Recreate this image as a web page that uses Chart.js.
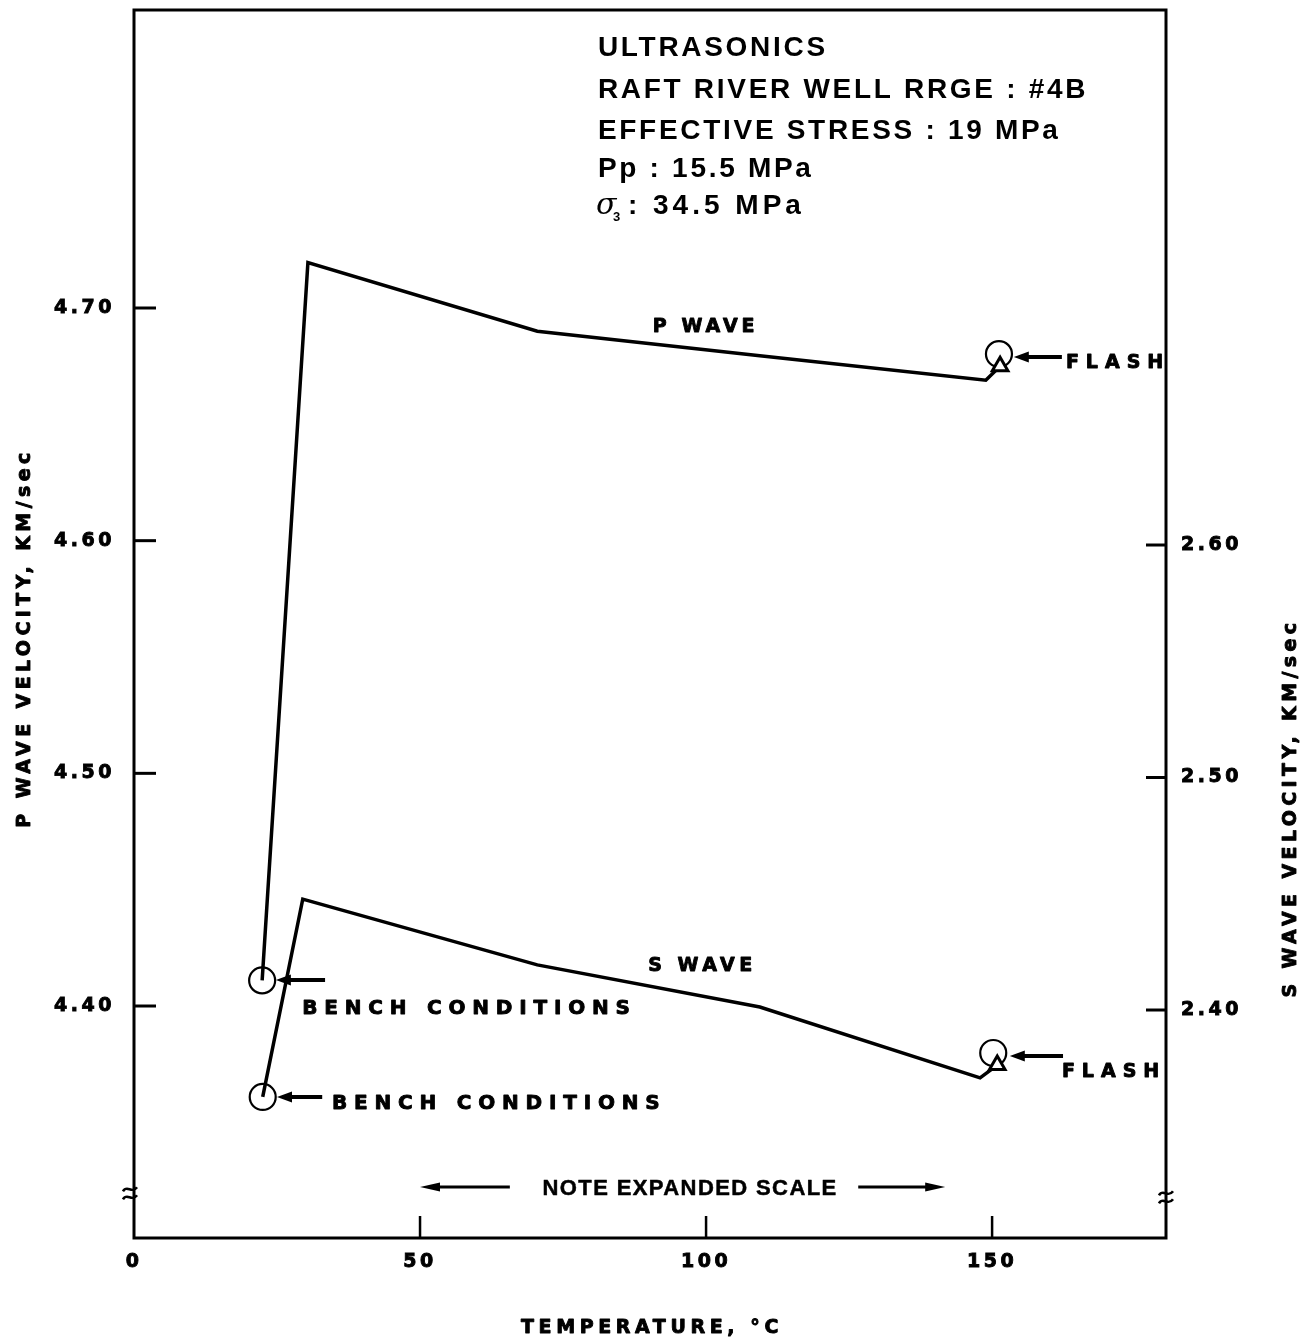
<!DOCTYPE html>
<html>
<head>
<meta charset="utf-8">
<script src="https://cdn.jsdelivr.net/npm/chart.js@4.4.1/dist/chart.umd.min.js"></script>
<style>
  html, body { margin: 0; padding: 0; background: #fff; }
  #wrap { width: 1304px; height: 1339px; }
</style>
</head>
<body>
<div id="wrap"><canvas id="c" width="1304" height="1339"></canvas></div>
<script>
// P wave velocity (km/s) against temperature (°C)
const pTemps    = [22.4, 30.4, 70.5, 109.4, 148.9, 151.4];
const pVelocity = [4.411, 4.7195, 4.690, 4.6795, 4.669, 4.675];

// S wave velocity (km/s) against temperature (°C)
const sTemps    = [22.5, 29.5, 70.5, 109.4, 147.9, 150.9];
const sVelocity = [2.3626, 2.4477, 2.4194, 2.4013, 2.3708, 2.3763];

// Circled readings: bench conditions and flash, P wave (left scale)
const pCircleTemps    = [22.4, 151.2];
const pCircleVelocity = [4.411, 4.6802];
// Circled readings: bench conditions and flash, S wave (right scale)
const sCircleTemps    = [22.5, 150.2];
const sCircleVelocity = [2.3626, 2.3815];

// Tick labels
const tempTicks = [0, 50, 100, 150];
const pTicks = [4.40, 4.50, 4.60, 4.70];
const sTicks = [2.40, 2.50, 2.60];

const infoLines = ['ULTRASONICS', 'RAFT RIVER WELL RRGE : #4B', 'EFFECTIVE STRESS : 19 MPa', 'Pp : 15.5 MPa'];

const toPoints = (xs, ys) => xs.map((t, i) => ({ x: t, y: ys[i] }));

function arrow(ctx, tailX, tailY, tipX, tipY, shaft, headLen, headHalf) {
  const ang = Math.atan2(tipY - tailY, tipX - tailX);
  const bx = tipX - Math.cos(ang) * headLen;
  const by = tipY - Math.sin(ang) * headLen;
  ctx.lineWidth = shaft;
  ctx.beginPath(); ctx.moveTo(tailX, tailY); ctx.lineTo(bx + Math.cos(ang) * 2, by + Math.sin(ang) * 2); ctx.stroke();
  ctx.beginPath();
  ctx.moveTo(tipX, tipY);
  ctx.lineTo(bx - Math.sin(ang) * headHalf, by + Math.cos(ang) * headHalf);
  ctx.lineTo(bx + Math.sin(ang) * headHalf, by - Math.cos(ang) * headHalf);
  ctx.closePath(); ctx.fill();
}

// filled text with letter spacing; an optional outline thickens heavy labels
function spaced(ctx, text, x, y, font, spacing, align, heavy) {
  ctx.font = font;
  ctx.letterSpacing = spacing + 'px';
  ctx.textAlign = align || 'left';
  ctx.textBaseline = 'alphabetic';
  ctx.fillText(text, x, y);
  if (heavy) {
    ctx.lineWidth = heavy;
    ctx.lineJoin = 'round';
    ctx.strokeText(text, x, y);
  }
}

function breakMark(ctx, x, y) {
  ctx.lineWidth = 2.6;
  for (const dy of [-4, 4]) {
    ctx.beginPath();
    ctx.moveTo(x - 7, y + dy + 2);
    ctx.bezierCurveTo(x - 3, y + dy - 5, x + 2, y + dy + 5, x + 7, y + dy - 2);
    ctx.stroke();
  }
}

const decor = {
  id: 'decor',
  beforeDraw(chart) {
    chart.ctx.letterSpacing = '3.5px';
  },
  beforeDatasetsDraw(chart) {
    const { ctx, chartArea: a, scales: { x, y, y2 } } = chart;
    ctx.save();
    ctx.strokeStyle = '#000';
    ctx.fillStyle = '#000';
    ctx.lineCap = 'square';
    // frame
    ctx.lineWidth = 3;
    ctx.strokeRect(a.left, a.top, a.right - a.left, a.bottom - a.top);
    // inward tick marks
    ctx.lineCap = 'butt';
    ctx.lineWidth = 2.5;
    tempTicks.filter(t => t > 0).forEach(t => {
      const px = x.getPixelForValue(t);
      ctx.beginPath(); ctx.moveTo(px, a.bottom); ctx.lineTo(px, a.bottom - 22); ctx.stroke();
    });
    ctx.lineWidth = 3;
    pTicks.forEach(v => {
      const py = y.getPixelForValue(v);
      ctx.beginPath(); ctx.moveTo(a.left, py); ctx.lineTo(a.left + 22, py); ctx.stroke();
    });
    sTicks.forEach(v => {
      const py = y2.getPixelForValue(v);
      ctx.beginPath(); ctx.moveTo(a.right, py); ctx.lineTo(a.right - 20, py); ctx.stroke();
    });
    // scale breaks
    const by = y.getPixelForValue(4.3195);
    breakMark(ctx, a.left - 4, by);
    breakMark(ctx, a.right, by + 4);
    ctx.restore();
  },
  afterDatasetsDraw(chart) {
    const { ctx, chartArea: a, scales: { x, y } } = chart;
    const X = t => x.getPixelForValue(t);
    const Y = v => y.getPixelForValue(v);
    ctx.save();
    ctx.fillStyle = '#000';
    ctx.strokeStyle = '#000';
    const lbl = 'bold 19px "DejaVu Sans"';
    const lblBig = 'bold 20px "DejaVu Sans"';

    // curve labels
    spaced(ctx, 'P WAVE', X(90.7), Y(4.6897), lbl, 4, 'left', 0.9);
    spaced(ctx, 'S WAVE', X(89.9), Y(4.4150), lbl, 4.5, 'left', 0.9);

    // flash callouts
    spaced(ctx, 'FLASH', X(162.9), Y(4.6742), lbl, 7, 'left', 0.9);
    arrow(ctx, X(162.2), Y(4.6789), X(153.8), Y(4.6789), 4, 15, 5.5);
    spaced(ctx, 'FLASH', X(162.2), Y(4.3695), lbl, 7, 'left', 0.9);
    arrow(ctx, X(162.4), Y(4.3785), X(153.1), Y(4.3785), 4, 15, 5.5);

    // bench condition callouts
    spaced(ctx, 'BENCH CONDITIONS', X(29.4), Y(4.3966), lblBig, 6.8, 'left', 0.9);
    arrow(ctx, X(33.4), Y(4.4112), X(24.8), Y(4.4112), 4, 15, 5.5);
    spaced(ctx, 'BENCH CONDITIONS', X(34.6), Y(4.3557), lblBig, 6.8, 'left', 0.9);
    arrow(ctx, X(32.9), Y(4.3609), X(25.0), Y(4.3609), 4, 15, 5.5);

    // expanded scale note
    spaced(ctx, 'NOTE EXPANDED SCALE', X(97.2), Y(4.3187), 'bold 22px "Liberation Sans"', 1.4, 'center', 0.5);
    arrow(ctx, X(65.7), Y(4.3222), X(50.0), Y(4.3222), 3, 20, 4.5);
    arrow(ctx, X(126.6), Y(4.3222), X(141.8), Y(4.3222), 3, 20, 4.5);

    // test conditions block
    const info = 'bold 28px "Liberation Sans"';
    const infoY = [4.8083, 4.7903, 4.7726, 4.7563];
    infoLines.forEach((s, i) => spaced(ctx, s, X(81.1), Y(infoY[i]), info, 2.7, 'left'));
    const sx = X(81.1), sy = Y(4.7404);
    spaced(ctx, 'σ', sx - 2, sy, 'italic 30px "DejaVu Serif"', 0, 'left');
    spaced(ctx, '3', sx + 15, sy + 7, 'bold 13px "Liberation Sans"', 0, 'left');
    spaced(ctx, ': 34.5 MPa', sx + 30, sy, info, 4, 'left');

    // axis titles
    const title = 'bold 19px "DejaVu Sans"';
    spaced(ctx, 'TEMPERATURE, °C', (a.left + a.right) / 2 + 2, 1333, title, 4.6, 'center', 0.9);
    ctx.translate(30, 638);
    ctx.rotate(-Math.PI / 2);
    spaced(ctx, 'P WAVE VELOCITY, KM/sec', 0, 0, title, 4.4, 'center', 0.9);
    ctx.setTransform(1, 0, 0, 1, 0, 0);
    ctx.translate(1296, 808);
    ctx.rotate(-Math.PI / 2);
    spaced(ctx, 'S WAVE VELOCITY, KM/sec', 0, 0, title, 4.4, 'center', 0.9);
    ctx.restore();
  }
};

const tickFont = { family: 'DejaVu Sans', weight: 'bold', size: 19 };
const tickStyle = { color: '#000', font: tickFont, textStrokeColor: '#000', textStrokeWidth: 0.9, autoSkip: false };

new Chart(document.getElementById('c'), {
  type: 'line',
  data: {
    datasets: [
      {
        label: 'P wave',
        data: toPoints(pTemps, pVelocity),
        yAxisID: 'y',
        borderColor: '#000',
        borderWidth: 3.5,
        tension: 0,
        pointStyle: 'triangle',
        pointRadius: pTemps.map((t, i) => (i === pTemps.length - 1 ? 9 : 0)),
        pointBorderWidth: 3,
        pointBorderColor: '#000',
        pointBackgroundColor: '#fff',
        fill: false
      },
      {
        label: 'S wave',
        data: toPoints(sTemps, sVelocity),
        yAxisID: 'y2',
        borderColor: '#000',
        borderWidth: 3.5,
        tension: 0,
        pointStyle: 'triangle',
        pointRadius: sTemps.map((t, i) => (i === sTemps.length - 1 ? 9 : 0)),
        pointBorderWidth: 3,
        pointBorderColor: '#000',
        pointBackgroundColor: '#fff',
        fill: false
      },
      {
        label: 'P wave readings',
        type: 'scatter',
        data: toPoints(pCircleTemps, pCircleVelocity),
        yAxisID: 'y',
        showLine: false,
        pointStyle: 'circle',
        pointRadius: 13,
        pointBorderWidth: 2.2,
        pointBorderColor: '#000',
        pointBackgroundColor: 'rgba(0,0,0,0)'
      },
      {
        label: 'S wave readings',
        type: 'scatter',
        data: toPoints(sCircleTemps, sCircleVelocity),
        yAxisID: 'y2',
        showLine: false,
        pointStyle: 'circle',
        pointRadius: 13,
        pointBorderWidth: 2.2,
        pointBorderColor: '#000',
        pointBackgroundColor: 'rgba(0,0,0,0)'
      }
    ]
  },
  options: {
    responsive: false,
    animation: false,
    devicePixelRatio: 1,
    events: [],
    layout: { autoPadding: false, padding: { top: 10, left: 0, right: 0, bottom: 0 } },
    plugins: { legend: { display: false }, tooltip: { enabled: false } },
    scales: {
      x: {
        type: 'linear',
        position: 'bottom',
        min: 0,
        max: 180.4,
        afterBuildTicks: s => { s.ticks = tempTicks.map(v => ({ value: v })); },
        afterFit: s => { s.height = 101; s.paddingLeft = 0; s.paddingRight = 0; },
        grid: { display: false, drawTicks: false },
        border: { display: false },
        ticks: { ...tickStyle, padding: 13, maxRotation: 0, callback: v => String(v) },
        title: { display: false }
      },
      y: {
        type: 'linear',
        position: 'left',
        min: 4.30029,
        max: 4.82808,
        afterBuildTicks: s => { s.ticks = pTicks.map(v => ({ value: v })); },
        afterFit: s => { s.width = 134; s.paddingTop = 0; s.paddingBottom = 0; },
        grid: { display: false, drawTicks: false },
        border: { display: false },
        ticks: { ...tickStyle, padding: 19, callback: v => v.toFixed(2) },
        title: { display: false }
      },
      y2: {
        type: 'linear',
        position: 'right',
        min: 2.30194,
        max: 2.83011,
        afterBuildTicks: s => { s.ticks = sTicks.map(v => ({ value: v })); },
        afterFit: s => { s.width = 138; s.paddingTop = 0; s.paddingBottom = 0; },
        grid: { display: false, drawTicks: false },
        border: { display: false },
        ticks: { ...tickStyle, padding: 15, callback: v => v.toFixed(2) },
        title: { display: false }
      }
    }
  },
  plugins: [decor]
});
</script>
</body>
</html>
